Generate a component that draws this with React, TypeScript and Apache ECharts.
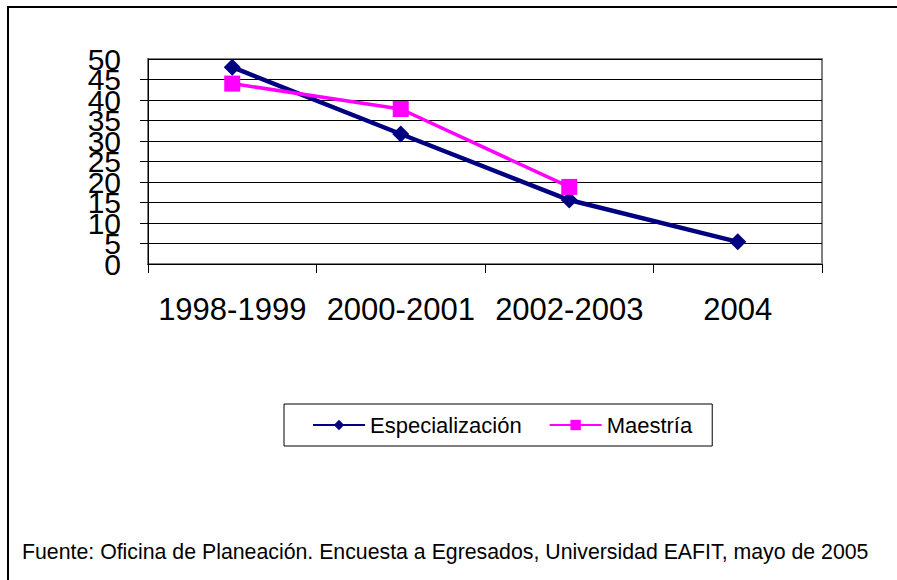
import React, { useEffect, useRef } from "react";
import * as echarts from "echarts";

const categories = ["1998-1999", "2000-2001", "2002-2003", "2004"];
const especializacion = [48, 31.7, 15.6, 5.4];
const maestria: (number | null)[] = [44, 37.8, 18.8, null];
const yTicks = { min: 0, max: 50, interval: 5 };
const footnote =
  "Fuente: Oficina de Planeación. Encuesta a Egresados, Universidad EAFIT, mayo de 2005";

const FONT = "'Liberation Sans', Arial, sans-serif";

const yLabelStyle = {
  fontSize: 30,
  color: "#000",
  margin: 27,
  fontFamily: FONT,
};

export default function App() {
  const ref = useRef<HTMLDivElement>(null);
  useEffect(() => {
    if (!ref.current) return;
    const chart = echarts.init(ref.current, null, { renderer: "svg" });
    chart.setOption({
      animation: false,
      backgroundColor: "#ffffff",
      textStyle: { fontFamily: FONT },
      grid: {
        left: 148,
        top: 59,
        right: 75,
        bottom: 316,
        show: true,
        borderColor: "#808080",
        borderWidth: 2,
        backgroundColor: "transparent",
      },
      graphic: [
        {
          type: "rect",
          shape: { x: 8, y: 7, width: 1200, height: 1200 },
          style: { fill: "none", stroke: "#000", lineWidth: 2 },
          silent: true,
        },
        {
          type: "text",
          x: 22,
          y: 552,
          style: {
            text: footnote,
            fill: "#000",
            font: `21.3px ${FONT}`,
            verticalAlign: "middle",
          },
        },
      ],
      legend: {
        left: 284,
        top: 404,
        itemWidth: 52,
        itemHeight: 13,
        itemGap: 27,
        padding: [10, 20, 10, 28],
        borderColor: "#000",
        borderWidth: 1,
        textStyle: { fontSize: 22, color: "#000", fontFamily: FONT },
        data: ["Especialización", "Maestría"],
      },
      xAxis: {
        type: "category",
        data: categories,
        boundaryGap: true,
        axisLine: { lineStyle: { color: "#000", width: 1 } },
        axisTick: { show: true, length: 9, lineStyle: { color: "#000" } },
        axisLabel: {
          fontSize: 31,
          color: "#000",
          margin: 30,
          fontFamily: FONT,
          interval: 0,
        },
        splitLine: { show: false },
      },
      yAxis: [
        {
          type: "value",
          position: "left",
          min: yTicks.min,
          max: yTicks.max,
          interval: yTicks.interval,
          axisLine: { show: true, lineStyle: { color: "#000", width: 1 } },
          axisTick: { show: true, length: 8, lineStyle: { color: "#000" } },
          axisLabel: {
            ...yLabelStyle,
            showMinLabel: false,
            showMaxLabel: false,
          },
          splitLine: { show: true, lineStyle: { color: "#000", width: 1 } },
        },
        {
          type: "value",
          position: "left",
          offset: 0,
          min: yTicks.min,
          max: yTicks.max,
          interval: yTicks.max - yTicks.min,
          axisLine: { show: false },
          axisTick: { show: false },
          axisLabel: { ...yLabelStyle },
          splitLine: { show: false },
        },
      ],
      series: [
        {
          name: "Especialización",
          type: "line",
          yAxisIndex: 0,
          data: especializacion,
          symbol: "diamond",
          symbolSize: 17,
          itemStyle: { color: "#000080" },
          lineStyle: { color: "#000080", width: 4.5 },
        },
        {
          name: "Maestría",
          type: "line",
          yAxisIndex: 0,
          data: maestria,
          symbol: "rect",
          symbolSize: 16,
          itemStyle: { color: "#FF00FF" },
          lineStyle: { color: "#FF00FF", width: 3.5 },
        },
      ],
    });
    return () => chart.dispose();
  }, []);
  return (
    <div
      ref={ref}
      style={{ position: "absolute", left: 0, top: 0, width: 897, height: 580 }}
    />
  );
}
